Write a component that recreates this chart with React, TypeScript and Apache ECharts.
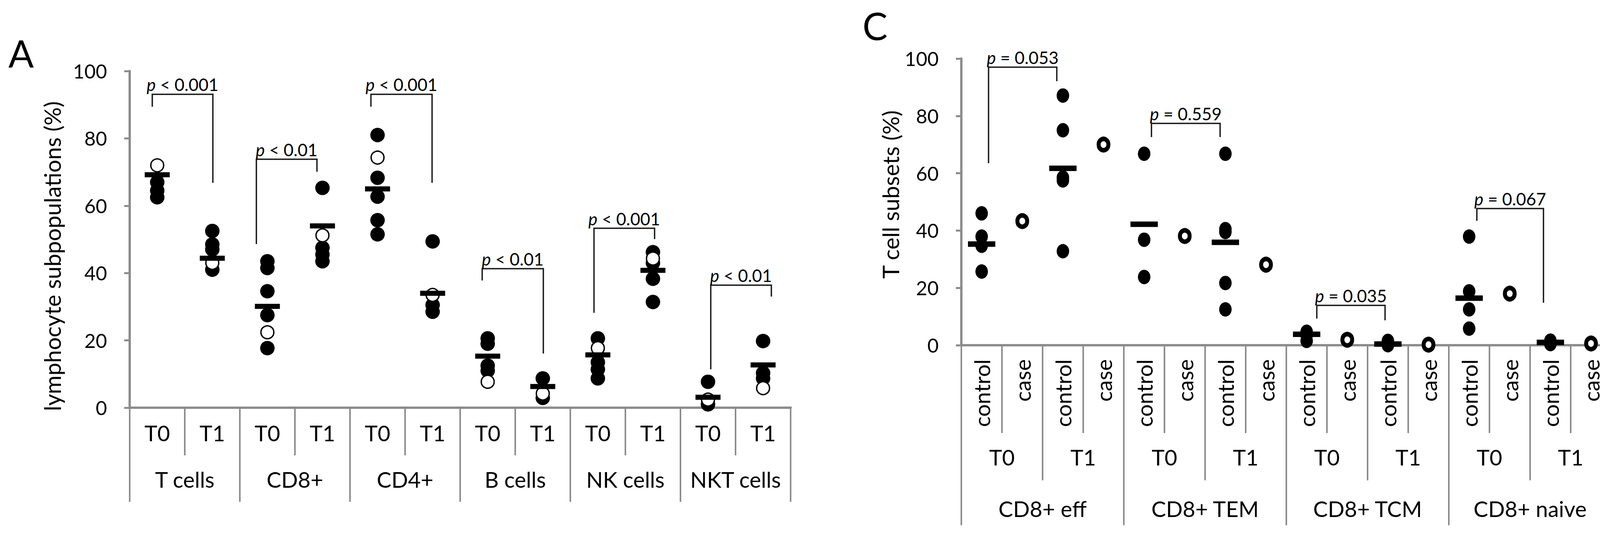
import React, { useEffect, useRef } from "react";
import * as echarts from "echarts";

const FONT = "Lato, 'Open Sans', 'DejaVu Sans', sans-serif";
const AXIS_GRAY = "#8c8c8c";

// ---------- Panel A ----------
const categoriesA = ["T0", "T1", "T0", "T1", "T0", "T1", "T0", "T1", "T0", "T1", "T0", "T1"];
const groupsA = ["T cells", "CD8+", "CD4+", "B cells", "NK cells", "NKT cells"];
const filledA: number[][] = [
  [67, 64.5, 62.5],
  [52.5, 48.5, 47, 41],
  [43.5, 41.5, 34.6, 27.5, 17.7],
  [65.3, 47.5, 45.5, 43.5],
  [81, 68.3, 62.7, 55.7, 51.5],
  [49.4, 30.5, 28.5],
  [20.6, 19, 12.5, 11],
  [8.7, 2.9],
  [20.6, 13.5, 11.4, 8.7],
  [46.2, 43, 38.3, 31.4],
  [7.7, 1],
  [19.8, 10.3, 8.7],
];
const openA: number[][] = [[72], [43], [22.4], [51.2], [74.3], [33.5], [7.7], [4.2], [17.7], [44.3], [2.4], [5.8]];
const meanA: number[] = [69.2, 44.4, 30.1, 54, 65, 34, 15.3, 6.3, 15.7, 40.8, 3.1, 12.7];
// [left leg (category units), right leg, left end, top, right end]
const bracketsA: number[][] = [
  [-0.09, 1.01, 89.4, 93.1, 66.8],
  [1.8, 2.9, 48.6, 73.8, 70.1],
  [3.88, 4.99, 89.4, 93.1, 66.8],
  [5.9, 7.01, 37.8, 41.3, 16.1],
  [7.93, 9.03, 28.2, 53.3, 50.1],
  [10.05, 11.15, 11.4, 36.4, 33.0],
];
const pValuesA = ["< 0.001", "< 0.01", "< 0.001", "< 0.01", "< 0.001", "< 0.01"];

// ---------- Panel C ----------
const categoriesC = [
  "control", "case", "control", "case", "control", "case", "control", "case",
  "control", "case", "control", "case", "control", "case", "control", "case",
];
const timesC = ["T0", "T1", "T0", "T1", "T0", "T1", "T0", "T1"];
const groupsC = ["CD8+ eff", "CD8+ TEM", "CD8+ TCM", "CD8+ naive"];
const filledC: number[][] = [
  [46, 37.9, 34.7, 25.7],
  [],
  [87.1, 75, 58.5, 57.5, 32.8],
  [],
  [66.8, 36.8, 23.8],
  [],
  [66.8, 40.5, 39.5, 21.7, 12.5],
  [],
  [4.7, 3.5, 1.5],
  [],
  [1.5, 0.3, 0],
  [],
  [37.9, 18.8, 12.5, 5.8],
  [],
  [1.6, 0.4],
  [],
];
const openC: number[][] = [[], [43.3], [], [70], [], [38.1], [], [28.1], [], [1.9], [], [0.2], [], [18], [], [0.6]];
const meanC: (number | null)[] = [35.3, null, 61.7, null, 42.2, null, 35.9, null, 3.8, null, 0.4, null, 16.4, null, 1.0, null];
const bracketsC: number[][] = [
  [0.17, 1.85, 63.5, 97.0, 92.1],
  [4.18, 5.87, 72.6, 77.4, 72.6],
  [8.25, 9.93, 9.3, 13.9, 8.7],
  [12.19, 13.83, 43.4, 47.7, 14.8],
];
const pValuesC = ["= 0.053", "= 0.559", "= 0.035", "= 0.067"];

const yMin = 0;
const yMax = 100;
const yStep = 20;

function toPoints(lists: number[][]) {
  const out: number[][] = [];
  lists.forEach((vals, i) => vals.forEach((v) => out.push([i, v])));
  return out;
}

function catAxis(gridIndex: number, data: string[], margin: number, tickLen: number, fontSize: number, rotate = 0) {
  return {
    type: "category",
    gridIndex,
    data,
    position: "bottom",
    boundaryGap: true,
    axisLine: { show: true, lineStyle: { color: AXIS_GRAY, width: 6 } },
    axisTick: { show: true, interval: 0, length: tickLen, lineStyle: { color: AXIS_GRAY, width: 4 } },
    axisLabel: { interval: 0, margin, fontSize, fontFamily: FONT, color: "#000", rotate },
    splitLine: { show: false },
  };
}

function valAxis(gridIndex: number) {
  return {
    type: "value",
    gridIndex,
    min: yMin,
    max: yMax,
    interval: yStep,
    axisLine: { show: true, lineStyle: { color: AXIS_GRAY, width: 6 } },
    axisTick: { show: true, length: 14, lineStyle: { color: AXIS_GRAY, width: 5 } },
    axisLabel: { fontSize: 50, margin: 58, color: "#000", fontFamily: FONT },
    splitLine: { show: false },
  };
}

function bracketSeries(xAxisIndex: number, yAxisIndex: number, brackets: number[][], labels: string[]) {
  return {
    type: "custom",
    xAxisIndex,
    yAxisIndex,
    silent: true,
    z: 10,
    data: brackets.map((b) => [0, b[3]]),
    renderItem: (params: any, api: any) => {
      const b = brackets[params.dataIndex];
      const c0 = api.coord([0, 0]);
      const bw = api.size([1, 0])[0];
      const xL = c0[0] + b[0] * bw;
      const xR = c0[0] + b[1] * bw;
      const yL = api.coord([0, b[2]])[1];
      const yT = api.coord([0, b[3]])[1];
      const yR = api.coord([0, b[4]])[1];
      return {
        type: "group",
        children: [
          {
            type: "polyline",
            shape: { points: [[xL, yL], [xL, yT], [xR, yT], [xR, yR]] },
            style: { stroke: "#1a1a1a", lineWidth: 3.5, fill: "none" },
          },
          {
            type: "text",
            x: (xL + xR) / 2,
            y: yT - 3,
            style: {
              text: "{i|p} " + labels[params.dataIndex],
              fontSize: 44,
              fontFamily: FONT,
              fill: "#000",
              align: "center",
              verticalAlign: "bottom",
              rich: { i: { fontStyle: "italic", fontSize: 44, fontFamily: FONT, fill: "#000" } },
            },
          },
        ],
      };
    },
  };
}

function pointSeries(xAxisIndex: number, yAxisIndex: number, filled: number[][], open: number[][], means: (number | null)[], panelC: boolean) {
  const meanData: number[][] = [];
  means.forEach((m, i) => {
    if (m !== null) meanData.push([i, m]);
  });
  return [
    {
      type: "scatter",
      xAxisIndex,
      yAxisIndex,
      silent: true,
      symbol: "circle",
      symbolSize: panelC ? [32, 37] : 37,
      itemStyle: { color: "#000", opacity: 1 },
      data: toPoints(filled),
    },
    {
      type: "scatter",
      xAxisIndex,
      yAxisIndex,
      silent: true,
      symbol: "circle",
      symbolSize: panelC ? [25, 29] : 33,
      itemStyle: { color: "#fff", borderColor: "#000", borderWidth: panelC ? 11 : 3.5, opacity: 1 },
      data: toPoints(open),
    },
    {
      type: "scatter",
      xAxisIndex,
      yAxisIndex,
      silent: true,
      symbol: "rect",
      symbolSize: panelC ? [70, 14] : [64, 13],
      itemStyle: { color: "#000", opacity: 1 },
      data: meanData,
    },
  ];
}

export default function App() {
  const ref = useRef<HTMLDivElement>(null);
  useEffect(() => {
    if (!ref.current) return;
    const chart = echarts.init(ref.current, undefined, { renderer: "svg" });
    const option: any = {
      animation: false,
      backgroundColor: "#fff",
      grid: [
        { left: 332, top: 182, width: 1692, height: 862, containLabel: false, outerBoundsMode: "none" },
        { left: 2461, top: 150, width: 1664, height: 734, containLabel: false, outerBoundsMode: "none" },
      ],
      xAxis: [
        catAxis(0, categoriesA, 36, 122, 56),
        catAxis(0, groupsA, 155, 241, 56),
        catAxis(1, categoriesC, 36, 225, 56, 90),
        catAxis(1, timesC, 258, 346, 56),
        catAxis(1, groupsC, 390, 461, 56),
      ],
      yAxis: [valAxis(0), valAxis(1)],
      graphic: [
        {
          type: "text",
          x: 54,
          y: 135,
          style: { text: "A", fontSize: 96, fontFamily: FONT, fill: "#000", align: "center", verticalAlign: "middle", textAlign: "center", textVerticalAlign: "middle" },
        },
        {
          type: "text",
          x: 2240,
          y: 65,
          style: { text: "C", fontSize: 96, fontFamily: FONT, fill: "#000", align: "center", verticalAlign: "middle", textAlign: "center", textVerticalAlign: "middle" },
        },
        {
          type: "text",
          x: 133,
          y: 656,
          rotation: Math.PI / 2,
          style: { text: "lymphocyte subpopulations (%)", fontSize: 58, fontFamily: FONT, fill: "#000", align: "center", verticalAlign: "middle", textAlign: "center", textVerticalAlign: "middle" },
        },
        {
          type: "text",
          x: 2279,
          y: 498,
          rotation: Math.PI / 2,
          style: { text: "T cell subsets (%)", fontSize: 58, fontFamily: FONT, fill: "#000", align: "center", verticalAlign: "middle", textAlign: "center", textVerticalAlign: "middle" },
        },
      ],
      series: [
        ...pointSeries(0, 0, filledA, openA, meanA, false),
        bracketSeries(0, 0, bracketsA, pValuesA),
        ...pointSeries(2, 1, filledC, openC, meanC, true),
        bracketSeries(2, 1, bracketsC, pValuesC),
      ],
    };
    chart.setOption(option);
    return () => chart.dispose();
  }, []);
  return (
    <div
      ref={ref}
      style={{ position: "fixed", left: 0, top: 0, width: 4161, height: 1370, background: "#fff" }}
    />
  );
}
